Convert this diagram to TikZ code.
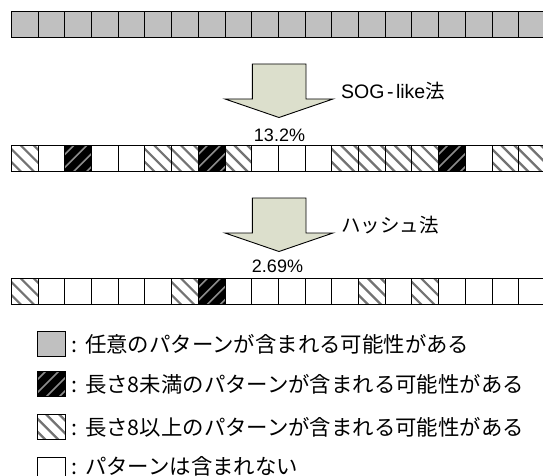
\documentclass[tikz,border=0pt]{standalone}
\usepackage{fontspec}
\setmainfont{Liberation Sans}
\newfontfamily\jp{Noto Sans CJK JP}
\definecolor{cellgray}{RGB}{192,192,192}
\definecolor{arrowfill}{RGB}{220,223,204}
\begin{document}
\begin{tikzpicture}[x=1pt,y=-1pt,
  cell/.style={draw=black, line width=0.9pt, minimum width=26.7pt, minimum height=26.5pt,
    inner sep=0pt, outer sep=0pt, anchor=north west},
  cg/.style={cell, fill=cellgray},
  cw/.style={cell, fill=white},
  ch/.style={cell, fill=white, path picture={
    \foreach \c in {-21,-8,5,18}{\draw[line width=2.2pt, black!55]
      ([xshift=\c pt, yshift=4pt]path picture bounding box.north west) -- ++(36pt,-36pt);}}},
  cb/.style={cell, fill=black, path picture={
    \foreach \c in {-21,-8,5,18}{\draw[line width=1.6pt, white!55!black]
      ([xshift=\c pt, yshift=-4pt]path picture bounding box.south west) -- ++(36pt,36pt);}}},
  legbox/.style={minimum width=27.7pt, minimum height=25pt},
  bigarrow/.style={draw=black, line width=0.9pt, fill=arrowfill, line join=miter},
  pct/.style={font=\fontsize{18}{18}\selectfont, inner sep=0pt},
  meth/.style={font=\fontsize{19.5}{20}\selectfont, inner sep=0pt, anchor=west},
  legtext/.style={font=\jp\fontsize{21.4}{22}\selectfont, inner sep=0pt, anchor=west}
]
\useasboundingbox (0,0) rectangle (543,476);

% row 1: all gray
\foreach \i in {0,...,19}{\node[cg] (a\i) at ({11.4+26.7*\i},11) {};}

% row 2
\foreach \t [count=\i from 0] in {ch,cw,cb,cw,cw,ch,ch,cb,ch,cw,cw,cw,ch,ch,ch,ch,cb,cw,ch,ch}{
  \edef\tmp{\noexpand\node[\t] (b\i) at ({11.4+26.7*\i},145) {};}\tmp}

% row 3
\foreach \t [count=\i from 0] in {ch,cw,cw,cw,cw,cw,ch,cb,cw,cw,cw,cw,cw,ch,cw,ch,cw,cw,cw,cw}{
  \edef\tmp{\noexpand\node[\t] (c\i) at ({11.4+26.7*\i},278) {};}\tmp}

% arrows
\draw[bigarrow] (252.3,64) -- (306,64) -- (306,99) -- (333,99) -- (279,117.5)
  -- (225,99) -- (252.3,99) -- cycle;
\draw[bigarrow] (252.3,198) -- (306,198) -- (306,233) -- (333,233) -- (279,251.5)
  -- (225,233) -- (252.3,233) -- cycle;

\node[meth] (m1) at (341,91.5) {SOG\kern2.5pt-\kern2.5pt like{\jp 法}};
\node[meth] (m2) at (341,225) {\jp ハッシュ法};
\node[pct] (p1) at (279.5,135) {13.2\%};
\node[pct] (p2) at (277.5,266.5) {2.69\%};

% legend
\node[cg, legbox] (l1) at (37.3,331.7) {};
\node[cb, legbox] (l2) at (37.3,371.7) {};
\node[ch, legbox] (l3) at (37.3,414.5) {};
\node[cw, legbox] (l4) at (37.3,457) {};

\node[legtext] (t1) at ([xshift=6pt]l1.east) {:\kern8pt 任意のパターンが含まれる可能性がある};
\node[legtext] (t2) at ([xshift=6pt]l2.east) {:\kern8pt 長さ8未満のパターンが含まれる可能性がある};
\node[legtext] (t3) at ([xshift=6pt]l3.east) {:\kern8pt 長さ8以上のパターンが含まれる可能性がある};
\node[legtext] (t4) at ([xshift=6pt,yshift=3pt]l4.east) {:\kern8pt パターンは含まれない};
\end{tikzpicture}
\end{document}
